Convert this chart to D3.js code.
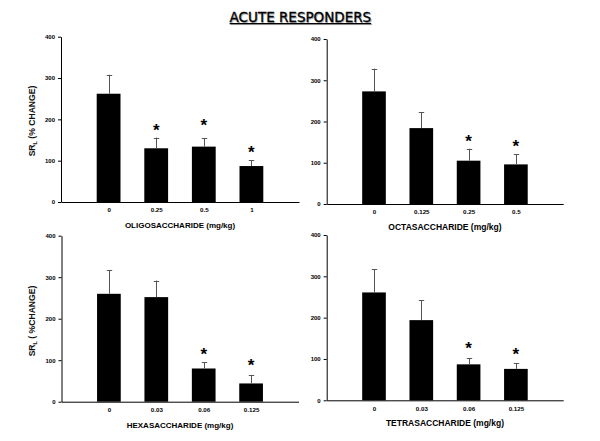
<!DOCTYPE html>
<html>
<head>
<meta charset="utf-8">
<script src="https://cdn.jsdelivr.net/npm/d3@7"></script>
<style>
  html, body { margin: 0; padding: 0; background: #fff; }
  svg { display: block; }
</style>
</head>
<body>
<svg id="chart" width="600" height="441"></svg>
<script>
// ---- Data ----
const chartTitle = "ACUTE RESPONDERS";
const yTicks = [0, 100, 200, 300, 400];

const oligoDoses = ["0", "0.25", "0.5", "1"];
const oligoMean  = [262, 130, 134, 87];
const oligoSem   = [46, 26, 21, 14];
const oligoStar  = [null, 184, 196, 130];

const octaDoses = ["0", "0.125", "0.25", "0.5"];
const octaMean  = [273, 184, 105, 96];
const octaSem   = [55, 38, 29, 24];
const octaStar  = [null, null, 163, 151];

const hexaDoses = ["0", "0.03", "0.06", "0.125"];
const hexaMean  = [260, 252, 80, 44];
const hexaSem   = [57, 40, 15, 20];
const hexaStar  = [null, null, 125, 98];

const tetraDoses = ["0", "0.03", "0.06", "0.125"];
const tetraMean  = [261, 194, 87, 76];
const tetraSem   = [56, 48, 15, 14];
const tetraStar  = [null, null, 136, 122];

const xTitles = ["OLIGOSACCHARIDE (mg/kg)", "OCTASACCHARIDE (mg/kg)", "HEXASACCHARIDE (mg/kg)", "TETRASACCHARIDE (mg/kg)"];
const yTitleTop = [" (% CHANGE)"];
const yTitleBottom = [" ( %CHANGE)"];

// ---- Layout (not data) ----
const panels = [
  { doses: oligoDoses, mean: oligoMean, sem: oligoSem, star: oligoStar, xt: xTitles[0], yt: yTitleTop[0],
    x0: 61, x1: 299, y0: 202, y1: 36.7, xtSize: 8, ytY: 121 },
  { doses: octaDoses, mean: octaMean, sem: octaSem, star: octaStar, xt: xTitles[1], yt: null,
    x0: 326.7, x1: 563.2, y0: 204, y1: 39, xtSize: 8.5 },
  { doses: hexaDoses, mean: hexaMean, sem: hexaSem, star: hexaStar, xt: xTitles[2], yt: yTitleBottom[0],
    x0: 61.5, x1: 298.5, y0: 401.7, y1: 235.7, xtSize: 8, ytY: 321 },
  { doses: tetraDoses, mean: tetraMean, sem: tetraSem, star: tetraStar, xt: xTitles[3], yt: null,
    x0: 326.7, x1: 563.2, y0: 400.3, y1: 235, xtSize: 8.5 }
];

const svg = d3.select("#chart");
const FONT = "'Liberation Sans', Arial, sans-serif";

// Title with shadow + underline
const tg = svg.append("g");
tg.append("text").attr("x", 301.2).attr("y", 22.7)
  .attr("text-anchor", "middle").attr("font-family", "'DejaVu Sans', sans-serif")
  .attr("font-size", 13.5).attr("fill", "#b0b0b0").attr("stroke", "#b0b0b0").attr("stroke-width", 0.3)
  .text(chartTitle);
const title = tg.append("text").attr("x", 300.4).attr("y", 21.7)
  .attr("text-anchor", "middle").attr("font-family", "'DejaVu Sans', sans-serif")
  .attr("font-size", 13.5).attr("fill", "#000").attr("stroke", "#000").attr("stroke-width", 0.3)
  .text(chartTitle);
const bb = title.node().getBBox();
tg.append("line").attr("x1", bb.x + 1).attr("x2", bb.x + bb.width + 1)
  .attr("y1", 24.6).attr("y2", 24.6).attr("stroke", "#b0b0b0").attr("stroke-width", 1);
tg.append("line").attr("x1", bb.x).attr("x2", bb.x + bb.width)
  .attr("y1", 23.6).attr("y2", 23.6).attr("stroke", "#000").attr("stroke-width", 1.1);

panels.forEach(p => {
  const g = svg.append("g");
  const x = d3.scaleLinear().domain([0, p.doses.length + 1]).range([p.x0, p.x1]);
  const y = d3.scaleLinear().domain([0, 400]).range([p.y0, p.y1]);
  const step = x(1) - x(0);
  const bw = step * 0.5;

  // bars
  g.selectAll("rect.bar").data(p.mean).join("rect")
    .attr("x", (d, i) => x(i + 1) - bw / 2)
    .attr("width", bw)
    .attr("y", d => y(d))
    .attr("height", d => y(0) - y(d))
    .attr("fill", "#000");

  // error bars (upper only)
  const eg = g.append("g").attr("stroke", "#555").attr("stroke-width", 1);
  p.mean.forEach((m, i) => {
    const cx = Math.round(x(i + 1)) + 0.5;
    eg.append("line").attr("x1", cx).attr("x2", cx).attr("y1", y(m)).attr("y2", y(m + p.sem[i]));
    eg.append("line").attr("x1", cx - 2.7).attr("x2", cx + 2.7)
      .attr("y1", Math.round(y(m + p.sem[i])) + 0.5).attr("y2", Math.round(y(m + p.sem[i])) + 0.5);
  });

  // asterisks
  g.selectAll("text.star").data(p.star.map((s, i) => ({ s, i })).filter(d => d.s != null)).join("text")
    .attr("class", "star")
    .attr("x", d => x(d.i + 1))
    .attr("y", d => y(d.s))
    .attr("dy", "0.58em")
    .attr("text-anchor", "middle")
    .attr("font-family", FONT).attr("font-weight", "bold").attr("font-size", 17)
    .text("*");

  // y axis
  const ya = g.append("g").attr("transform", `translate(${p.x0},0)`)
    .call(d3.axisLeft(y).tickValues(yTicks).tickSize(3).tickSizeOuter(0).tickPadding(3));
  ya.select(".domain").attr("stroke", "#000");
  ya.selectAll(".tick line").attr("stroke", "#000");
  ya.selectAll("text").attr("font-family", FONT).attr("font-weight", "bold").attr("font-size", 6).attr("fill", "#000");

  // x axis
  const xa = g.append("g").attr("transform", `translate(0,${p.y0})`)
    .call(d3.axisBottom(x).tickValues(p.doses.map((d, i) => i + 1))
      .tickFormat((d, i) => p.doses[i]).tickSize(0).tickSizeOuter(0).tickPadding(6));
  xa.select(".domain").attr("stroke", "#000");
  xa.selectAll("text").attr("font-family", FONT).attr("font-weight", "bold").attr("font-size", 6.2).attr("fill", "#000");

  // x title
  g.append("text").attr("x", x(2.5)).attr("y", p.y0 + 26)
    .attr("text-anchor", "middle")
    .attr("font-family", FONT).attr("font-weight", "bold").attr("font-size", p.xtSize)
    .text(p.xt);

  // y title
  if (p.yt) {
    const t = g.append("text")
      .attr("transform", `translate(35,${p.ytY}) rotate(-90)`)
      .attr("text-anchor", "middle")
      .attr("font-family", FONT).attr("font-weight", "bold").attr("font-size", 8.6)
      .attr("fill", "#111");
    t.append("tspan").text("SR");
    t.append("tspan").attr("font-size", 5.5).attr("dy", 2).text("L");
    t.append("tspan").attr("dy", -2).text(p.yt);
  }
});
</script>
</body>
</html>
